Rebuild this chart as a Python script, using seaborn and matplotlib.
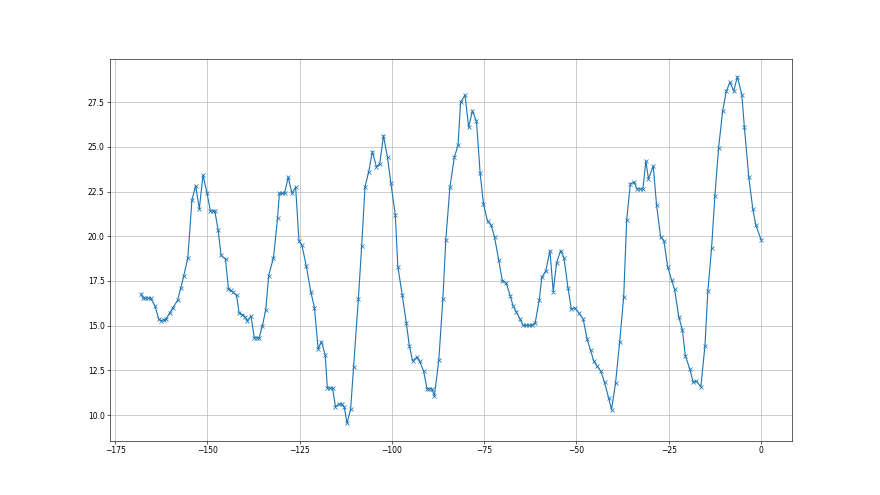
import matplotlib
matplotlib.use("Agg")
import matplotlib.pyplot as plt
import seaborn as sns
import pandas as pd

# ── valeurs ──────────────────────────────────────────────────────────────────
x_vals = [
    -168.0, -167.4, -166.8, -166.1, -165.4, -164.2, -163.2, -162.5, -161.9, -161.2,
    -160.2, -159.4, -158.1, -157.2, -156.4, -155.3, -154.2, -153.2, -152.2, -151.2,
    -150.1, -149.2, -148.6, -148.0, -147.1, -146.3, -145.1, -144.3, -143.7, -143.1,
    -142.1, -141.4, -140.5, -139.9, -139.2, -138.2, -137.3, -136.6, -136.0, -135.1,
    -134.2, -133.4, -132.1, -131.0, -130.5, -129.9, -129.1, -128.1, -127.1, -126.1,
    -125.2, -124.4, -123.2, -122.0, -121.0, -120.0, -119.1, -118.1, -117.5, -116.8,
    -116.1, -115.3, -114.4, -113.6, -112.9, -112.2, -111.2, -110.4, -109.1, -108.2,
    -107.3, -106.3, -105.3, -104.2, -103.3, -102.3, -101.2, -100.3, -99.1, -98.4,
    -97.2, -96.1, -95.3, -94.4, -93.3, -92.5, -91.4, -90.5, -89.9, -89.2,
    -88.5, -87.3, -86.2, -85.4, -84.3, -83.1, -82.1, -81.4, -80.2, -79.2,
    -78.2, -77.1, -76.1, -75.2, -74.1, -73.1, -72.2, -71.1, -70.1, -69.1,
    -67.9, -67.2, -66.3, -65.3, -64.5, -63.8, -63.0, -62.1, -61.2, -60.1,
    -59.4, -58.3, -57.2, -56.3, -55.4, -54.3, -53.4, -52.3, -51.4, -50.5,
    -49.4, -48.2, -47.1, -46.2, -45.3, -44.4, -43.4, -42.4, -41.3, -40.5,
    -39.4, -38.3, -37.2, -36.4, -35.4, -34.4, -33.6, -32.8, -32.0, -31.2,
    -30.5, -29.2, -28.3, -27.2, -26.3, -25.3, -24.2, -23.4, -22.3, -21.3,
    -20.5, -19.3, -18.4, -17.5, -16.3, -15.2, -14.4, -13.4, -12.5, -11.5,
    -10.4, -9.4, -8.4, -7.4, -6.4, -5.2, -4.5, -3.3, -2.2, -1.4,
    0.0,
]

y_vals = [
    16.78, 16.54, 16.54, 16.54, 16.54, 16.10, 15.36, 15.28, 15.32, 15.39,
    15.71, 15.99, 16.41, 17.12, 17.80, 18.81, 22.02, 22.84, 21.53, 23.42,
    22.41, 21.42, 21.42, 21.42, 20.35, 18.94, 18.71, 17.04, 16.97, 16.88,
    16.69, 15.71, 15.62, 15.51, 15.28, 15.53, 14.32, 14.32, 14.32, 15.00,
    15.88, 17.80, 18.81, 21.00, 22.41, 22.41, 22.41, 23.31, 22.41, 22.75,
    19.75, 19.50, 18.32, 16.91, 16.01, 13.69, 14.10, 13.38, 11.51, 11.51,
    11.51, 10.46, 10.61, 10.61, 10.43, 9.54, 10.32, 12.70, 16.51, 19.46,
    22.77, 23.61, 24.74, 23.88, 24.07, 25.63, 24.41, 22.99, 21.19, 18.31,
    16.69, 15.15, 13.88, 13.03, 13.23, 13.00, 12.44, 11.47, 11.47, 11.47,
    11.06, 13.09, 16.51, 19.82, 22.74, 24.42, 25.09, 27.50, 27.90, 26.10,
    27.02, 26.44, 23.52, 21.80, 20.85, 20.61, 19.95, 18.70, 17.52, 17.41,
    16.64, 16.12, 15.76, 15.37, 15.02, 15.02, 15.02, 15.02, 15.15, 16.41,
    17.70, 18.07, 19.20, 16.91, 18.51, 19.20, 18.81, 17.12, 15.91, 16.00,
    15.72, 15.37, 14.24, 13.62, 13.01, 12.73, 12.45, 11.82, 10.97, 10.30,
    11.81, 14.08, 16.63, 20.89, 22.94, 23.03, 22.65, 22.65, 22.65, 24.21,
    23.22, 23.93, 21.75, 19.97, 19.73, 18.30, 17.53, 17.03, 15.51, 14.76,
    13.31, 12.58, 11.85, 11.90, 11.57, 13.84, 16.93, 19.32, 22.25, 24.93,
    27.00, 28.12, 28.63, 28.12, 28.93, 27.92, 26.10, 23.30, 21.50, 20.63,
    19.82,
]

df = pd.DataFrame({"x": x_vals, "y": y_vals})

# ── figure ───────────────────────────────────────────────────────────────────
fig, ax = plt.subplots(figsize=(16, 9), dpi=55)
sns.lineplot(data=df, x="x", y="y", ax=ax, estimator=None, sort=False,
             color="#1f77b4", linewidth=1.5, marker="x", markersize=6,
             markeredgecolor="#1f77b4", markeredgewidth=1.0)
ax.grid(True, color="#b0b0b0", linewidth=0.8)
ax.set_xlabel("")
ax.set_ylabel("")

fig.savefig("out.png", dpi=55)
